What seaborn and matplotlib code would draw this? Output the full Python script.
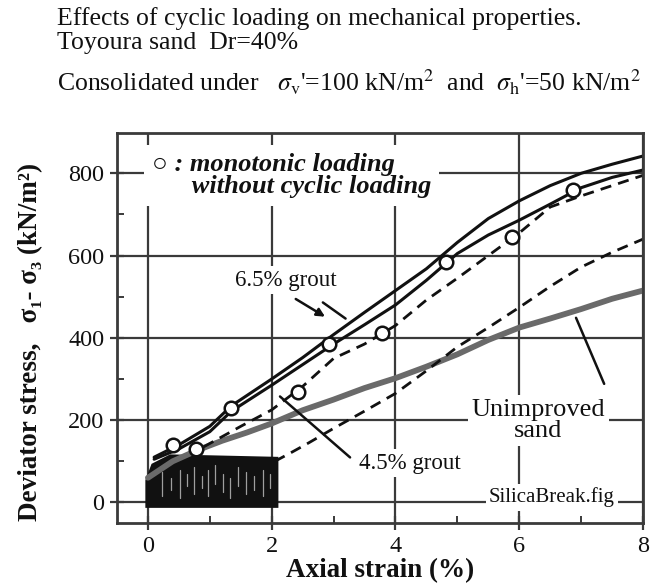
import matplotlib
matplotlib.use("Agg")
import matplotlib.pyplot as plt
import seaborn as sns

# ---- data -------------------------------------------------------------
# 6.5 % grout, two specimens (solid)
strain_g65a = [0.1, 0.5, 1.0, 1.35, 2.0, 2.5, 3.0, 3.5, 4.0, 4.5, 5.0, 5.5, 6.0, 6.5, 7.0, 7.5, 8.0]
stress_g65a = [110, 140, 185, 235, 300, 352, 408, 462, 515, 568, 632, 690, 733, 770, 800, 822, 842]
strain_g65b = [0.1, 0.5, 1.0, 1.35, 2.0, 2.5, 3.0, 3.5, 4.0, 4.5, 5.0, 5.5, 6.0, 6.5, 7.0, 7.5, 8.0]
stress_g65b = [105, 130, 172, 222, 285, 335, 385, 432, 480, 540, 605, 650, 686, 725, 765, 790, 808]

# 4.5 % grout, two specimens (dashed)
strain_g45a = [0.9, 1.2, 1.5, 2.0, 2.5, 3.0, 3.5, 4.0, 4.5, 5.0, 5.5, 6.0, 6.5, 7.0, 7.5, 8.0]
stress_g45a = [135, 160, 185, 225, 282, 350, 385, 430, 492, 545, 600, 655, 718, 745, 770, 795]
strain_g45b = [2.05, 2.3, 2.6, 3.0, 3.5, 4.0, 4.5, 5.0, 5.5, 6.0, 6.5, 7.0, 7.5, 8.0]
stress_g45b = [100, 120, 145, 180, 222, 265, 320, 378, 425, 474, 525, 572, 608, 640]

# unimproved sand
strain_sand = [0.0, 0.4, 0.8, 1.2, 1.6, 2.0, 2.5, 3.0, 3.5, 4.0, 4.5, 5.0, 5.5, 6.0, 6.5, 7.0, 7.5, 8.0]
stress_sand = [60, 100, 127, 150, 170, 192, 224, 250, 278, 302, 330, 360, 395, 425, 447, 470, 495, 515]

# monotonic loading without cyclic loading
strain_mono = [0.40, 0.77, 1.34, 2.42, 2.92, 3.79, 4.81, 5.89, 6.87]
stress_mono = [139, 129, 229, 268, 384, 411, 584, 645, 759]

# cyclic loading stage: envelope of the loops and individual loop strains
cyc_strain = [-0.05, 0.05, 0.35, 2.1]
cyc_top = [55, 95, 118, 112]
cyc_bottom = [-12, -12, -12, -12]
loop_strain = [0.22, 0.38, 0.52, 0.63, 0.74, 0.88, 0.97, 1.08, 1.21, 1.33, 1.46, 1.58, 1.72, 1.86, 1.97]
loop_low = [15, 30, 10, 40, 20, 35, 15, 45, 25, 10, 40, 20, 30, 15, 35]
loop_high = [75, 60, 80, 70, 85, 65, 78, 90, 70, 60, 85, 75, 65, 80, 70]

x_major = [0, 2, 4, 6, 8]
x_minor = [1, 3, 5, 7]
y_major = [0, 200, 400, 600, 800]
y_minor = [100, 300, 500, 700]

# ---- style ------------------------------------------------------------
sns.set_theme(style="ticks")
plt.rcParams["font.family"] = ["Liberation Serif", "DejaVu Serif"]
plt.rcParams["mathtext.fontset"] = "stix"

fig = plt.figure(figsize=(6.54, 5.83), dpi=100)
ax = fig.add_axes([0.1789, 0.1029, 0.8043, 0.669])

ink = "#111111"
grid_c = "#3a3a3a"

# cyclic loading block
ax.fill_between(cyc_strain, cyc_bottom, cyc_top, color=ink, lw=0, zorder=2)
for xs, lo, hi in zip(loop_strain, loop_low, loop_high):
    ax.plot([xs, xs], [lo, hi], color="white", lw=0.9, alpha=0.6, zorder=2.1)

# curves
sns.lineplot(x=strain_sand, y=stress_sand, ax=ax, color="#6a6a6a", lw=4.2,
             sort=False, estimator=None, zorder=2.2)
sns.lineplot(x=strain_g45b, y=stress_g45b, ax=ax, color=ink, lw=2.0,
             linestyle=(0, (4, 2.6)), sort=False, estimator=None, zorder=2.3)
sns.lineplot(x=strain_g45a, y=stress_g45a, ax=ax, color=ink, lw=2.0,
             linestyle=(0, (4, 2.6)), sort=False, estimator=None, zorder=2.3)
sns.lineplot(x=strain_g65b, y=stress_g65b, ax=ax, color=ink, lw=2.2,
             sort=False, estimator=None, zorder=2.4)
sns.lineplot(x=strain_g65a, y=stress_g65a, ax=ax, color=ink, lw=2.2,
             sort=False, estimator=None, zorder=2.4)
sns.scatterplot(x=strain_mono, y=stress_mono, ax=ax, s=95, marker="o",
                facecolor="white", edgecolor=ink, linewidth=1.8, zorder=3)

# axes
ax.set_xlim(-0.5, 8.0)
ax.set_ylim(-50, 898)
ax.set_xticks(x_major)
ax.set_xticks(x_minor, minor=True)
ax.set_yticks(y_major)
ax.set_yticks(y_minor, minor=True)
ax.grid(True, which="major", color=grid_c, lw=1.6)
ax.set_axisbelow(True)
for s in ax.spines.values():
    s.set_color(grid_c)
    s.set_linewidth(2.0)
ax.tick_params(which="major", direction="inout", length=10, width=1.6,
               color=grid_c, labelsize=17.5, labelcolor=ink, pad=4)
ax.tick_params(which="minor", direction="in", length=5, width=1.4, color=grid_c)

ax.set_xlabel("Axial strain (%)", fontsize=19.5, fontweight="bold", color=ink, labelpad=1.5)
ax.set_ylabel("Deviator stress,   σ₁- σ₃ (kN/m²)", fontsize=19.5,
              fontweight="bold", color=ink)
ax.yaxis.set_label_coords(-0.141, 0.464)

box = dict(boxstyle="square,pad=0.15", fc="white", ec="none")

ax.text(0.06, 795, "○ : monotonic loading\n      without cyclic loading",
        fontsize=19, fontweight="bold", style="italic", color=ink,
        ha="left", va="center", linespacing=0.95,
        bbox=dict(boxstyle="square,pad=0.3", fc="white", ec="none"), zorder=4)

ax.text(2.23, 540, "6.5% grout", fontsize=16.5, color=ink, ha="center",
        va="center", bbox=box, zorder=4)
ax.annotate("", xy=(2.9, 448), xytext=(2.35, 498),
            arrowprops=dict(arrowstyle="-|>", color=ink, lw=1.8,
                            mutation_scale=12), zorder=4)
ax.annotate("", xy=(3.23, 443), xytext=(2.79, 490),
            arrowprops=dict(arrowstyle="-", color=ink, lw=1.8), zorder=4)

ax.text(4.24, 95, "4.5% grout", fontsize=16.5, color=ink, ha="center",
        va="center", bbox=box, zorder=4)
ax.annotate("", xy=(2.1, 262), xytext=(3.3, 105),
            arrowprops=dict(arrowstyle="-", color=ink, lw=1.8), zorder=4)

ax.text(6.31, 200, "Unimproved\nsand", fontsize=19, color=ink, ha="center",
        va="center", linespacing=0.95, bbox=box, zorder=4)
ax.annotate("", xy=(6.9, 455), xytext=(7.39, 282),
            arrowprops=dict(arrowstyle="-", color=ink, lw=1.8), zorder=4)

ax.text(6.53, 12, "SilicaBreak.fig", fontsize=15, color=ink, ha="center",
        va="center", bbox=box, zorder=4)

# heading
fig.text(0.087, 0.968, "Effects of cyclic loading on mechanical properties.",
         fontsize=18.5, color=ink, ha="left", va="center")
fig.text(0.087, 0.926, "Toyoura sand  Dr=40%", fontsize=18.5, color=ink,
         ha="left", va="center")
fig.text(0.087, 0.858,
         r"Consolidated under   $\sigma_{\mathrm{v}}$'=100 kN/m$^2$  and  $\sigma_{\mathrm{h}}$'=50 kN/m$^2$",
         fontsize=18.5, color=ink, ha="left", va="center")

fig.savefig("out.png", dpi=100, facecolor="white")
